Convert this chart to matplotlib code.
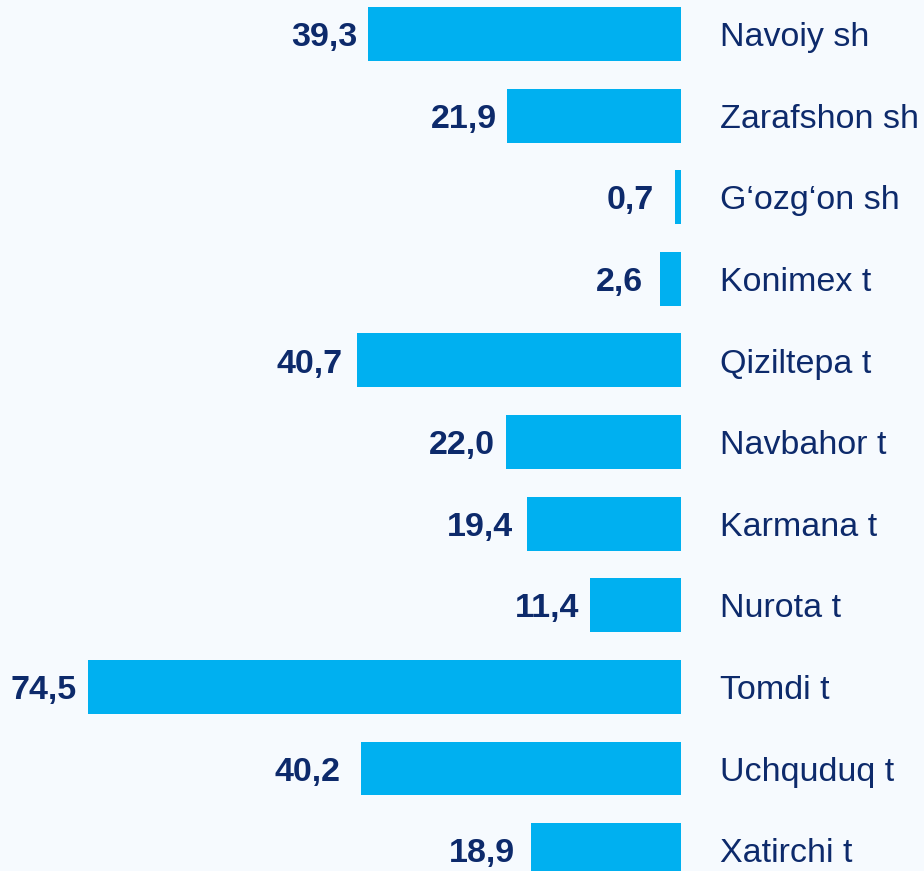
import matplotlib
matplotlib.use("Agg")
import matplotlib.pyplot as plt

categories = ["Navoiy sh", "Zarafshon sh", "G\u2018ozg\u2018on sh", "Konimex t", "Qiziltepa t",
              "Navbahor t", "Karmana t", "Nurota t", "Tomdi t", "Uchquduq t", "Xatirchi t"]
values = [39.3, 21.9, 0.7, 2.6, 40.7, 22.0, 19.4, 11.4, 74.5, 40.2, 18.9]

# label gaps (pixels) between value label and bar end, as in the reference
label_gap_px = [11, 10, 22, 17, 14, 11, 14, 11, 11, 20, 16]

bg = "#F6FAFE"
bar_color = "#00B0F0"
text_color = "#0D2A6B"

plt.rcParams['font.family'] = ['Liberation Sans', 'DejaVu Sans']

FS = 24.5
cap_half_pt = FS * 0.716 / 2.0

fig = plt.figure(figsize=(9.24, 8.71), dpi=100, facecolor=bg)
ax = fig.add_axes([0, 0, 1, 1])
ax.set_facecolor(bg)

ypos = list(range(len(categories)))
ax.barh(ypos, [-v for v in values], height=0.66, color=bar_color, left=0)

for y, v, c, g in zip(ypos, values, categories, label_gap_px):
    ax.annotate(f"{v:.1f}".replace(".", ","), xy=(-v, y), xytext=(-g * 0.72, -cap_half_pt),
                textcoords="offset points", ha="right", va="baseline",
                fontsize=FS, fontweight="bold", color=text_color)
    ax.annotate(c, xy=(0, y), xytext=(28, -cap_half_pt), textcoords="offset points",
                ha="left", va="baseline", fontsize=FS, color=text_color)

ax.set_xlim(-85.55, 30.53)
ax.set_ylim(10.257, -0.417)
ax.axis("off")

fig.savefig("out.png", dpi=100, facecolor=bg)
